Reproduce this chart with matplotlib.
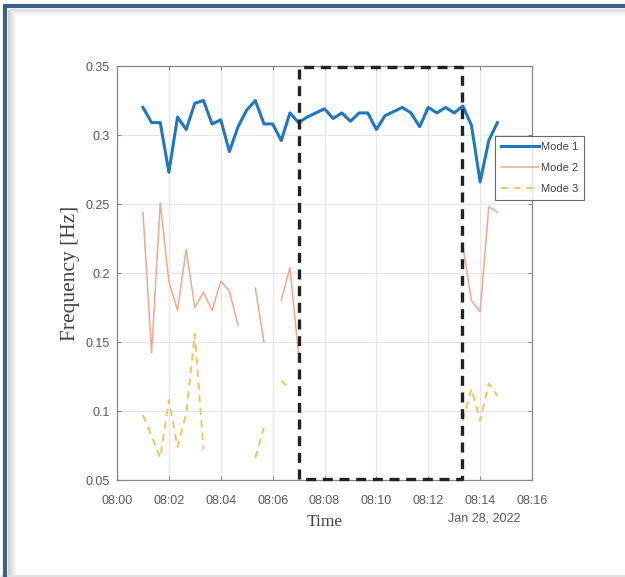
import matplotlib
matplotlib.use("Agg")
import matplotlib.pyplot as plt
import matplotlib.dates as mdates
from matplotlib.lines import Line2D
import numpy as np
import pandas as pd

# samples every 20 s, 08:01:00 .. 08:14:40
TIMES = pd.date_range("2022-01-28 08:01:00", periods=42, freq="20s")
nan = np.nan

MODE1 = [0.320, 0.309, 0.309, 0.273, 0.313, 0.304, 0.323, 0.325, 0.308, 0.311,
         0.288, 0.306, 0.318, 0.325, 0.308, 0.308, 0.296, 0.316, 0.309, 0.313,
         0.316, 0.319, 0.312, 0.316, 0.310, 0.316, 0.316, 0.304, 0.314, 0.317,
         0.320, 0.316, 0.306, 0.320, 0.316, 0.320, 0.316, 0.321, 0.307, 0.266,
         0.296, 0.309]
MODE2 = [0.244, 0.142, 0.251, 0.194, 0.173, 0.217, 0.175, 0.186, 0.173, 0.194,
         0.187, 0.162, nan, 0.189, 0.150, nan, 0.180, 0.204, 0.141, nan,
         nan, nan, nan, nan, nan, nan, nan, nan, nan, nan,
         nan, nan, nan, nan, nan, nan, nan, 0.220, 0.180, 0.172,
         0.248, 0.244]
MODE3 = [0.097, 0.082, 0.066, 0.108, 0.074, 0.098, 0.156, 0.072, nan, nan,
         nan, nan, nan, 0.066, 0.088, nan, 0.122, 0.116, nan, nan,
         nan, nan, nan, nan, nan, nan, nan, nan, nan, nan,
         nan, nan, nan, nan, nan, nan, nan, 0.093, 0.116, 0.093,
         0.120, 0.111]

HIGHLIGHT_START = pd.Timestamp("2022-01-28 08:07:00")
HIGHLIGHT_END = pd.Timestamp("2022-01-28 08:13:18")
X_MIN = pd.Timestamp("2022-01-28 08:00:00")
X_MAX = pd.Timestamp("2022-01-28 08:16:00")

TICK_COLOR = "#5a5a5a"
tick_font = {"family": "Liberation Sans", "size": 9, "color": TICK_COLOR}

fig = plt.figure(figsize=(6.25, 5.77), dpi=100)
fig.patch.set_facecolor("white")


def fig_line(xs, ys, color, lw):
    fig.add_artist(Line2D(xs, ys, color=color, lw=lw, transform=fig.transFigure,
                          solid_capstyle="butt"))


# slide-style frame: blue top/left edge with a soft grey inner shadow
W, H = 625.0, 577.0
for off, col in [(4, "#c8c8c8"), (5.5, "#d4d4d4"), (7, "#e0e0e0"), (8.5, "#eaeaea"), (10, "#f3f3f3")]:
    fig_line([(5 + off) / W, (5 + off) / W], [0.0, 1 - (6 + off) / H], col, 1.2)
for off, col in [(4, "#d8d8d8"), (5.5, "#e4e4e4"), (7, "#eeeeee"), (8.5, "#f6f6f6")]:
    fig_line([(5 + off) / W, 1.0], [1 - (6 + off) / H, 1 - (6 + off) / H], col, 1.2)
fig_line([0.0, 1.0], [1.5 / H, 1.5 / H], "#e2e2e2", 2.4)
fig_line([5 / W, 5 / W], [0.0, 1 - 3.5 / H], "#3b5f8f", 3.0)
fig_line([3.5 / W, 1.0], [1 - 5.5 / H, 1 - 5.5 / H], "#3b5f8f", 3.0)

ax = fig.add_axes([0.1872, 0.1681, 0.664, 0.7175])

ax.plot(TIMES, MODE1, color="#1f77c4", lw=2.2, label="Mode 1")
ax.plot(TIMES, MODE2, color="#f2a88c", lw=1.1, label="Mode 2")
ax.plot(TIMES, MODE3, color="#f2c14e", lw=1.3, ls=(0, (4, 3)), label="Mode 3")

ax.set_xlim(X_MIN, X_MAX)
ax.set_ylim(0.05, 0.35)
ax.set_yticks([0.05, 0.1, 0.15, 0.2, 0.25, 0.3, 0.35])
ax.set_yticklabels(["0.05", "0.1", "0.15", "0.2", "0.25", "0.3", "0.35"], fontdict=tick_font)
ax.xaxis.set_major_locator(mdates.MinuteLocator(byminute=range(0, 60, 2)))
ax.xaxis.set_major_formatter(mdates.DateFormatter("%H:%M"))
for lab in ax.get_xticklabels():
    lab.set_fontfamily("Liberation Sans")
    lab.set_fontsize(9)
    lab.set_color(TICK_COLOR)

ax.grid(True, color="#e6e6e6", lw=0.8)
ax.tick_params(direction="in", length=3, color="#888888", top=True, right=True)
ax.tick_params(axis="x", pad=11)
ax.tick_params(axis="y", pad=5)
for s in ax.spines.values():
    s.set_color("#888888")
    s.set_linewidth(0.9)

ax.set_ylabel("Frequency [Hz]", family="Liberation Serif", fontsize=15.5, color="#444444", labelpad=4)
ax.set_xlabel("Time", family="Liberation Serif", fontsize=12.5, color="#444444", labelpad=5)
ax.text(0.884, -0.092, "Jan 28, 2022", transform=ax.transAxes, ha="center", va="center",
        family="Liberation Sans", fontsize=9, color=TICK_COLOR)

# dashed box marking the stable window
x0 = mdates.date2num(HIGHLIGHT_START)
x1 = mdates.date2num(HIGHLIGHT_END)
ax.plot([x0, x0, x1, x1, x0], [0.0505, 0.3495, 0.3495, 0.0505, 0.0505], color="#222222",
        lw=2.4, ls=(0, (3, 2)), clip_on=False, zorder=5)

leg = ax.legend(loc="upper left", bbox_to_anchor=(0.912, 0.83), fontsize=8,
                frameon=True, fancybox=False, borderpad=0.5, labelspacing=1.0,
                handlelength=3.4, handletextpad=0.2, borderaxespad=0)
leg.get_frame().set_edgecolor("#444444")
leg.get_frame().set_linewidth(0.8)
for t in leg.get_texts():
    t.set_color("#444444")
    t.set_fontfamily("Liberation Sans")

fig.savefig("out.png", dpi=100)
